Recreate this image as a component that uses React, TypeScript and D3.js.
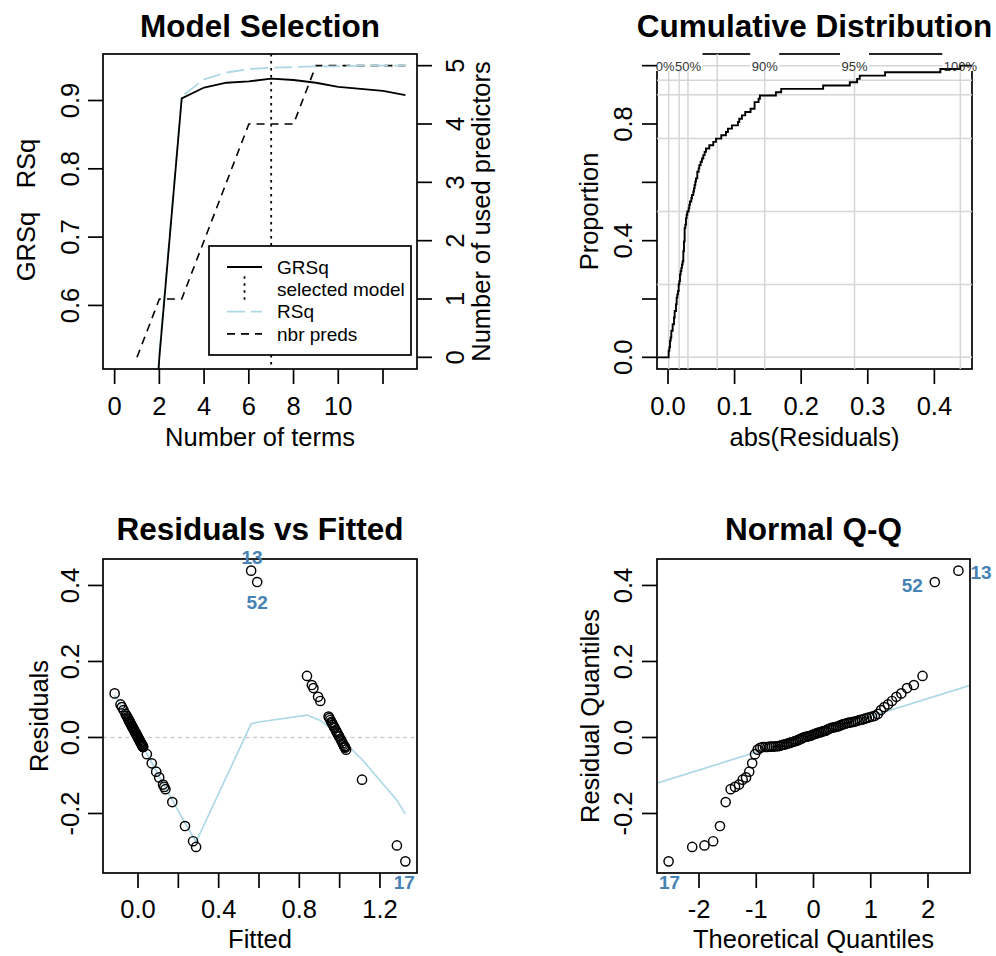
import React from "react";
import * as d3 from "d3";

const FONT = "'Liberation Sans', Arial, Helvetica, sans-serif";
const LIGHT_BLUE = "#add8e6";
const LABEL_BLUE = "#4682b4";
const GRID_GRAY = "#d6d6d6";
const TICK = 15;
const AXIS_FS = 25.5;
const LW = 1.7;

// ---------- Model Selection ----------
const termCounts = [1, 2, 3, 4, 5, 6, 7, 8, 9, 10, 11, 12, 13];
const grsqVals = [0, 0.524, 0.903, 0.919, 0.926, 0.928, 0.932, 0.93, 0.926, 0.92, 0.917, 0.914, 0.908];
const rsqVals = [0, 0.53, 0.906, 0.931, 0.941, 0.946, 0.948, 0.949, 0.95, 0.95, 0.951, 0.951, 0.951];
const nbrPreds = [0, 1, 1, 2, 3, 4, 4, 4, 5, 5, 5, 5, 5];
const selectedTerms = 7;
const termTicks = [0, 2, 4, 6, 8, 10, 12];
const termTickLabels = ["0", "2", "4", "6", "8", "10", ""];
const rsqTicks = [0.6, 0.7, 0.8, 0.9];
const predTicks = [0, 1, 2, 3, 4, 5];
const legendItems = ["GRSq", "selected model", "RSq", "nbr preds"];

// ---------- residuals ----------
const fittedVals = [
  1.326, 0.288, 1.284, 0.273, 0.233, 0.17, 0.136, 0.13, 0.124, 1.111, 0.105, 0.09, 0.068, 0.044,
  1.032, 1.027, 0.025, 1.025, 0.025, 0.024, 1.024, 0.024, 0.023, 1.023, 0.022, 0.02, 1.019, 0.018,
  0.016, 1.015, 0.013, 0.012, 1.01, 0.009, 0.007, 1.005, 0.003, 0.001,
  -0.001, 0.998, -0.003, -0.004, 0.995, -0.007, -0.009, 0.99, -0.012, -0.013, 0.986, -0.016, -0.017,
  0.982, -0.021, -0.023, 0.975, -0.026, -0.027, 0.972, -0.029, -0.031, 0.967, -0.035, -0.036, 0.962,
  -0.039, -0.04, 0.959, -0.042, -0.044, 0.954, -0.047, -0.049, 0.949, -0.053, 0.945, -0.057,
  -0.062, -0.072, -0.08, -0.087, 0.904, 0.893, -0.116, 0.87, 0.862, 0.838, 0.591, 0.561,
];
const residVals = [
  -0.326, -0.288, -0.284, -0.273, -0.233, -0.17, -0.136, -0.13, -0.124, -0.111, -0.105, -0.09, -0.068, -0.044,
  -0.032, -0.027, -0.025, -0.025, -0.025, -0.024, -0.024, -0.024, -0.023, -0.023, -0.022, -0.02, -0.019, -0.018,
  -0.016, -0.015, -0.013, -0.012, -0.01, -0.009, -0.007, -0.005, -0.003, -0.001,
  0.001, 0.002, 0.003, 0.004, 0.005, 0.007, 0.009, 0.01, 0.012, 0.013, 0.014, 0.016, 0.017,
  0.018, 0.021, 0.023, 0.025, 0.026, 0.027, 0.028, 0.029, 0.031, 0.033, 0.035, 0.036, 0.038,
  0.039, 0.04, 0.041, 0.042, 0.044, 0.046, 0.047, 0.049, 0.051, 0.053, 0.055, 0.057,
  0.062, 0.072, 0.08, 0.087, 0.096, 0.107, 0.116, 0.13, 0.138, 0.162, 0.409, 0.439,
];
const pointIds = [
  { index: 0, text: "17" },
  { index: 86, text: "52" },
  { index: 87, text: "13" },
];
const smoothFitted = [-0.116, -0.05, 0, 0.05, 0.1, 0.17, 0.233, 0.288, 0.561, 0.591, 0.838, 0.904, 0.96, 1.0, 1.032, 1.111, 1.284, 1.326];
const smoothResid = [0.112, 0.05, 0.002, -0.048, -0.098, -0.165, -0.225, -0.275, 0.036, 0.04, 0.059, 0.045, 0.022, 0, -0.017, -0.058, -0.165, -0.201];

// ---------- cumulative distribution ----------
const cumProbs = [0, 0.25, 0.5, 0.75, 0.9, 0.95, 1];
const cumProbLabels = ["0%", "", "50%", "", "90%", "95%", "100%"];
const propTicks = [0, 0.2, 0.4, 0.6, 0.8, 1];
const propTickLabels = ["0.0", "", "0.4", "", "0.8", ""];
const absTicks = [0, 0.1, 0.2, 0.3, 0.4];
const absTickLabels = ["0.0", "0.1", "0.2", "0.3", "0.4"];

const fittedTicks = [0, 0.2, 0.4, 0.6, 0.8, 1.0, 1.2];
const fittedTickLabels = ["0.0", "", "0.4", "", "0.8", "", "1.2"];
const residTicks = [-0.2, 0, 0.2, 0.4];
const residTickLabels = ["-0.2", "0.0", "0.2", "0.4"];
const qTicks = [-2, -1, 0, 1, 2];
const qTickLabels = ["-2", "-1", "0", "1", "2"];

type Box = { left: number; right: number; top: number; bottom: number };
const BOX1: Box = { left: 103, right: 417, top: 54, bottom: 369 };
const BOX2: Box = { left: 657, right: 972, top: 54, bottom: 369 };
const BOX3: Box = { left: 103, right: 417, top: 559, bottom: 873 };
const BOX4: Box = { left: 657, right: 970, top: 559, bottom: 873 };

// R style 4% axis extension
const rRange = (lo: number, hi: number): [number, number] => {
  const d = (hi - lo) * 0.04;
  return [lo - d, hi + d];
};

// inverse normal CDF (Acklam)
function qnorm(p: number): number {
  const a = [-39.69683028665376, 220.9460984245205, -275.9285104469687, 138.357751867269, -30.66479806614716, 2.506628277459239];
  const b = [-54.47609879822406, 161.5858368580409, -155.6989798598866, 66.80131188771972, -13.28068155288572];
  const c = [-0.007784894002430293, -0.3223964580411365, -2.400758277161838, -2.549732539343734, 4.374664141464968, 2.938163982698783];
  const d = [0.007784695709041462, 0.3224671290700398, 2.445134137142996, 3.754408661907416];
  const pl = 0.02425;
  if (p < pl) {
    const q = Math.sqrt(-2 * Math.log(p));
    return (((((c[0] * q + c[1]) * q + c[2]) * q + c[3]) * q + c[4]) * q + c[5]) / ((((d[0] * q + d[1]) * q + d[2]) * q + d[3]) * q + 1);
  }
  if (p > 1 - pl) {
    const q = Math.sqrt(-2 * Math.log(1 - p));
    return -(((((c[0] * q + c[1]) * q + c[2]) * q + c[3]) * q + c[4]) * q + c[5]) / ((((d[0] * q + d[1]) * q + d[2]) * q + d[3]) * q + 1);
  }
  const q = p - 0.5;
  const r = q * q;
  return ((((((a[0] * r + a[1]) * r + a[2]) * r + a[3]) * r + a[4]) * r + a[5]) * q) / (((((b[0] * r + b[1]) * r + b[2]) * r + b[3]) * r + b[4]) * r + 1);
}

function Frame({ box }: { box: Box }) {
  return (
    <rect x={box.left} y={box.top} width={box.right - box.left} height={box.bottom - box.top} fill="none" stroke="#000" strokeWidth={LW} />
  );
}

function BottomAxis({ scale, ticks, labels, y, labelY }: any) {
  return (
    <g>
      {ticks.map((t: number, i: number) => (
        <g key={i}>
          <line x1={scale(t)} x2={scale(t)} y1={y} y2={y + TICK} stroke="#000" strokeWidth={LW} />
          {labels[i] && (
            <text x={scale(t)} y={labelY} textAnchor="middle" fontSize={AXIS_FS}>
              {labels[i]}
            </text>
          )}
        </g>
      ))}
    </g>
  );
}

function SideAxis({ scale, ticks, labels, x, labelX, right }: any) {
  const dir = right ? 1 : -1;
  return (
    <g>
      {ticks.map((t: number, i: number) => (
        <g key={i}>
          <line x1={x} x2={x + dir * TICK} y1={scale(t)} y2={scale(t)} stroke="#000" strokeWidth={LW} />
          {labels[i] && (
            <text x={labelX} y={scale(t)} textAnchor="middle" fontSize={AXIS_FS} transform={`rotate(-90,${labelX},${scale(t)})`}>
              {labels[i]}
            </text>
          )}
        </g>
      ))}
    </g>
  );
}

function VText({ x, y, children, size = AXIS_FS }: any) {
  return (
    <text x={x} y={y} textAnchor="middle" fontSize={size} transform={`rotate(-90,${x},${y})`}>
      {children}
    </text>
  );
}

function Title({ box, y, children }: any) {
  return (
    <text x={(box.left + box.right) / 2} y={y} textAnchor="middle" fontSize={31.5} fontWeight="bold">
      {children}
    </text>
  );
}

function ModelSelection() {
  const b = BOX1;
  const x = d3.scaleLinear().domain(rRange(0, 13)).range([b.left, b.right]);
  const y = d3.scaleLinear().domain(rRange(0.524, 0.951)).range([b.bottom, b.top]);
  const y2 = d3.scaleLinear().domain(rRange(0, 5)).range([b.bottom, b.top]);
  const lineL = d3.line<number>().x((_, i) => x(termCounts[i])).y((v) => y(v));
  const lineR = d3.line<number>().x((_, i) => x(termCounts[i])).y((v) => y2(v));
  const lg = { left: 209, top: 246, right: 411, bottom: 355 };
  const rows = [267, 289.3, 311.6, 333.9];
  return (
    <g>
      <defs>
        <clipPath id="clip1">
          <rect x={b.left} y={b.top} width={b.right - b.left} height={b.bottom - b.top} />
        </clipPath>
      </defs>
      <g clipPath="url(#clip1)">
        <path d={lineR(nbrPreds) || ""} fill="none" stroke="#000" strokeWidth={1.6} strokeDasharray="8,6" />
        <path d={lineL(rsqVals) || ""} fill="none" stroke={LIGHT_BLUE} strokeWidth={1.8} strokeDasharray="18,6" />
        <path d={lineL(grsqVals) || ""} fill="none" stroke="#000" strokeWidth={1.8} />
        <line x1={x(selectedTerms)} x2={x(selectedTerms)} y1={b.top} y2={b.bottom} stroke="#000" strokeWidth={1.8} strokeDasharray="2.5,4.5" />
      </g>
      <rect x={lg.left} y={lg.top} width={lg.right - lg.left} height={lg.bottom - lg.top} fill="#fff" stroke="#000" strokeWidth={LW} />
      <line x1={227} x2={262} y1={rows[0]} y2={rows[0]} stroke="#000" strokeWidth={1.8} />
      <line x1={244.5} x2={244.5} y1={rows[1] - 13} y2={rows[1] + 13} stroke="#000" strokeWidth={1.8} strokeDasharray="2.5,4.5" />
      <line x1={227} x2={262} y1={rows[2]} y2={rows[2]} stroke={LIGHT_BLUE} strokeWidth={1.8} strokeDasharray="18,6" />
      <line x1={227} x2={262} y1={rows[3]} y2={rows[3]} stroke="#000" strokeWidth={1.6} strokeDasharray="8,6" />
      {legendItems.map((t, i) => (
        <text key={t} x={277} y={rows[i] + 6.8} fontSize={19}>
          {t}
        </text>
      ))}
      <Frame box={b} />
      <BottomAxis scale={x} ticks={termTicks} labels={termTickLabels} y={b.bottom} labelY={415} />
      <SideAxis scale={y} ticks={rsqTicks} labels={rsqTicks.map((v) => v.toFixed(1))} x={b.left} labelX={79} />
      <SideAxis scale={y2} ticks={predTicks} labels={predTicks.map(String)} x={b.right} labelX={464} right />
      <Title box={b} y={36.5}>Model Selection</Title>
      <text x={(b.left + b.right) / 2} y={446} textAnchor="middle" fontSize={AXIS_FS}>
        Number of terms
      </text>
      <VText x={35} y={246.5}>GRSq</VText>
      <VText x={35} y={163.5}>RSq</VText>
      <VText x={490} y={211.5}>Number of used predictors</VText>
    </g>
  );
}

const labelWidth = (s: string, fs: number) =>
  s.split("").reduce((w, ch) => w + (ch === "%" ? 0.889 : 0.556), 0) * fs;

function CumulativeDistribution() {
  const b = BOX2;
  const absVals = residVals.map((r) => Math.abs(r)).sort(d3.ascending);
  const n = absVals.length;
  const ext = d3.extent(absVals) as [number, number];
  const xDom = rRange(ext[0], ext[1]);
  const x = d3.scaleLinear().domain(xDom).range([b.left, b.right]);
  const y = d3.scaleLinear().domain(rRange(0, 1)).range([b.bottom, b.top]);
  const steps: [number, number][] = [[xDom[0], 0]];
  absVals.forEach((v, i) => {
    if (i === n - 1 || absVals[i + 1] !== v) steps.push([v, (i + 1) / n]);
  });
  steps.push([xDom[1], 1]);
  const ecdfLine = d3.line<[number, number]>().x((d) => x(d[0])).y((d) => y(d[1])).curve(d3.curveStepAfter);
  const qs = cumProbs.map((p) => d3.quantileSorted(absVals, p) as number);
  const labFs = 13;
  // quantile labels: keep each one clear of the next one
  const labs = qs
    .map((q, i) => ({ cx: x(q), text: cumProbLabels[i], w: labelWidth(cumProbLabels[i], labFs) }))
    .filter((l) => l.text);
  for (let i = labs.length - 2; i >= 0; i--) {
    const limit = labs[i + 1].cx - labs[i + 1].w / 2 - 0.5;
    if (labs[i].cx + labs[i].w / 2 > limit) labs[i].cx = limit - labs[i].w / 2;
  }
  return (
    <g>
      <Frame box={b} />
      {cumProbs.map((p) => (
        <line key={"h" + p} x1={b.left} x2={b.right} y1={y(p)} y2={y(p)} stroke={GRID_GRAY} strokeWidth={1.5} />
      ))}
      {qs.map((q, i) => (
        <line key={"v" + i} x1={x(q)} x2={x(q)} y1={b.top} y2={b.bottom} stroke={GRID_GRAY} strokeWidth={1.5} />
      ))}
      {labs.map((l) => (
        <rect key={"r" + l.text} x={l.cx - l.w / 2 - 1.5} y={51} width={l.w + 3} height={20} fill="#fff" />
      ))}
      <path d={ecdfLine(steps) || ""} fill="none" stroke="#000" strokeWidth={1.9} />
      {labs.map((l) => (
        <text key={"t" + l.text} x={l.cx} y={y(1) + 5} textAnchor="middle" fontSize={labFs} fill="#333">
          {l.text}
        </text>
      ))}
      <BottomAxis scale={x} ticks={absTicks} labels={absTickLabels} y={b.bottom} labelY={415} />
      <SideAxis scale={y} ticks={propTicks} labels={propTickLabels} x={b.left} labelX={632} />
      <Title box={b} y={36.5}>Cumulative Distribution</Title>
      <text x={(b.left + b.right) / 2} y={446} textAnchor="middle" fontSize={AXIS_FS}>
        abs(Residuals)
      </text>
      <VText x={598} y={211.5}>Proportion</VText>
    </g>
  );
}

function ResidualsVsFitted() {
  const b = BOX3;
  const fe = d3.extent(fittedVals) as [number, number];
  const re = d3.extent(residVals) as [number, number];
  const x = d3.scaleLinear().domain(rRange(fe[0], fe[1])).range([b.left, b.right]);
  const y = d3.scaleLinear().domain(rRange(re[0], re[1])).range([b.bottom, b.top]);
  const smooth = d3.line<number>().x((v) => x(v)).y((_, i) => y(smoothResid[i]));
  const place: Record<string, { dx: number; dy: number }> = {
    "13": { dx: 1, dy: -6.5 },
    "52": { dx: 0, dy: 27 },
    "17": { dx: -1, dy: 28 },
  };
  return (
    <g>
      <line x1={b.left} x2={b.right} y1={y(0)} y2={y(0)} stroke="#cfcfcf" strokeWidth={1.4} strokeDasharray="4,3.5" />
      <path d={smooth(smoothFitted) || ""} fill="none" stroke={LIGHT_BLUE} strokeWidth={1.7} />
      {fittedVals.map((f, i) => (
        <circle key={i} cx={x(f)} cy={y(residVals[i])} r={4.6} fill="none" stroke="#000" strokeWidth={1.45} />
      ))}
      <Frame box={b} />
      {pointIds.map((p) => (
        <text
          key={p.text}
          x={x(fittedVals[p.index]) + place[p.text].dx}
          y={y(residVals[p.index]) + place[p.text].dy}
          textAnchor="middle"
          fontSize={19}
          fontWeight="bold"
          fill={LABEL_BLUE}
        >
          {p.text}
        </text>
      ))}
      <BottomAxis scale={x} ticks={fittedTicks} labels={fittedTickLabels} y={b.bottom} labelY={918} />
      <SideAxis scale={y} ticks={residTicks} labels={residTickLabels} x={b.left} labelX={79} />
      <Title box={b} y={539.5}>Residuals vs Fitted</Title>
      <text x={(b.left + b.right) / 2} y={948} textAnchor="middle" fontSize={AXIS_FS}>
        Fitted
      </text>
      <VText x={48} y={716}>Residuals</VText>
    </g>
  );
}

function NormalQQ() {
  const b = BOX4;
  const n = residVals.length;
  const order = d3.range(n).sort((i, j) => residVals[i] - residVals[j]);
  const theo = new Array(n);
  order.forEach((idx, rank) => {
    theo[idx] = qnorm((rank + 0.5) / n);
  });
  const sorted = order.map((i) => residVals[i]);
  const q1 = d3.quantileSorted(sorted, 0.25) as number;
  const q3 = d3.quantileSorted(sorted, 0.75) as number;
  const slope = (q3 - q1) / (qnorm(0.75) - qnorm(0.25));
  const intercept = q1 - slope * qnorm(0.25);
  const te = d3.extent(theo as number[]) as [number, number];
  const re = d3.extent(residVals) as [number, number];
  const xDom = rRange(te[0], te[1]);
  const x = d3.scaleLinear().domain(xDom).range([b.left, b.right]);
  const y = d3.scaleLinear().domain(rRange(re[0], re[1])).range([b.bottom, b.top]);
  const place: Record<string, { dx: number; dy: number; anchor: string }> = {
    "13": { dx: 12, dy: 8, anchor: "start" },
    "52": { dx: -12, dy: 10, anchor: "end" },
    "17": { dx: 1, dy: 28, anchor: "middle" },
  };
  return (
    <g>
      <defs>
        <clipPath id="clip4">
          <rect x={b.left} y={b.top} width={b.right - b.left} height={b.bottom - b.top} />
        </clipPath>
      </defs>
      <line
        clipPath="url(#clip4)"
        x1={x(xDom[0])}
        x2={x(xDom[1])}
        y1={y(intercept + slope * xDom[0])}
        y2={y(intercept + slope * xDom[1])}
        stroke={LIGHT_BLUE}
        strokeWidth={1.7}
      />
      {residVals.map((r, i) => (
        <circle key={i} cx={x(theo[i])} cy={y(r)} r={4.6} fill="none" stroke="#000" strokeWidth={1.45} />
      ))}
      <Frame box={b} />
      {pointIds.map((p) => (
        <text
          key={p.text}
          x={x(theo[p.index]) + place[p.text].dx}
          y={y(residVals[p.index]) + place[p.text].dy}
          textAnchor={place[p.text].anchor}
          fontSize={19}
          fontWeight="bold"
          fill={LABEL_BLUE}
        >
          {p.text}
        </text>
      ))}
      <BottomAxis scale={x} ticks={qTicks} labels={qTickLabels} y={b.bottom} labelY={918} />
      <SideAxis scale={y} ticks={residTicks} labels={residTickLabels} x={b.left} labelX={632} />
      <Title box={b} y={539.5}>Normal Q-Q</Title>
      <text x={(b.left + b.right) / 2} y={948} textAnchor="middle" fontSize={AXIS_FS}>
        Theoretical Quantiles
      </text>
      <VText x={599} y={716}>Residual Quantiles</VText>
    </g>
  );
}

export default function App() {
  return (
    <div style={{ position: "absolute", left: 0, top: 0, width: 996, height: 956, background: "#fff" }}>
      <svg width={996} height={956} style={{ display: "block", fontFamily: FONT }}>
        <rect width={996} height={956} fill="#fff" />
        <ModelSelection />
        <CumulativeDistribution />
        <ResidualsVsFitted />
        <NormalQQ />
      </svg>
    </div>
  );
}
